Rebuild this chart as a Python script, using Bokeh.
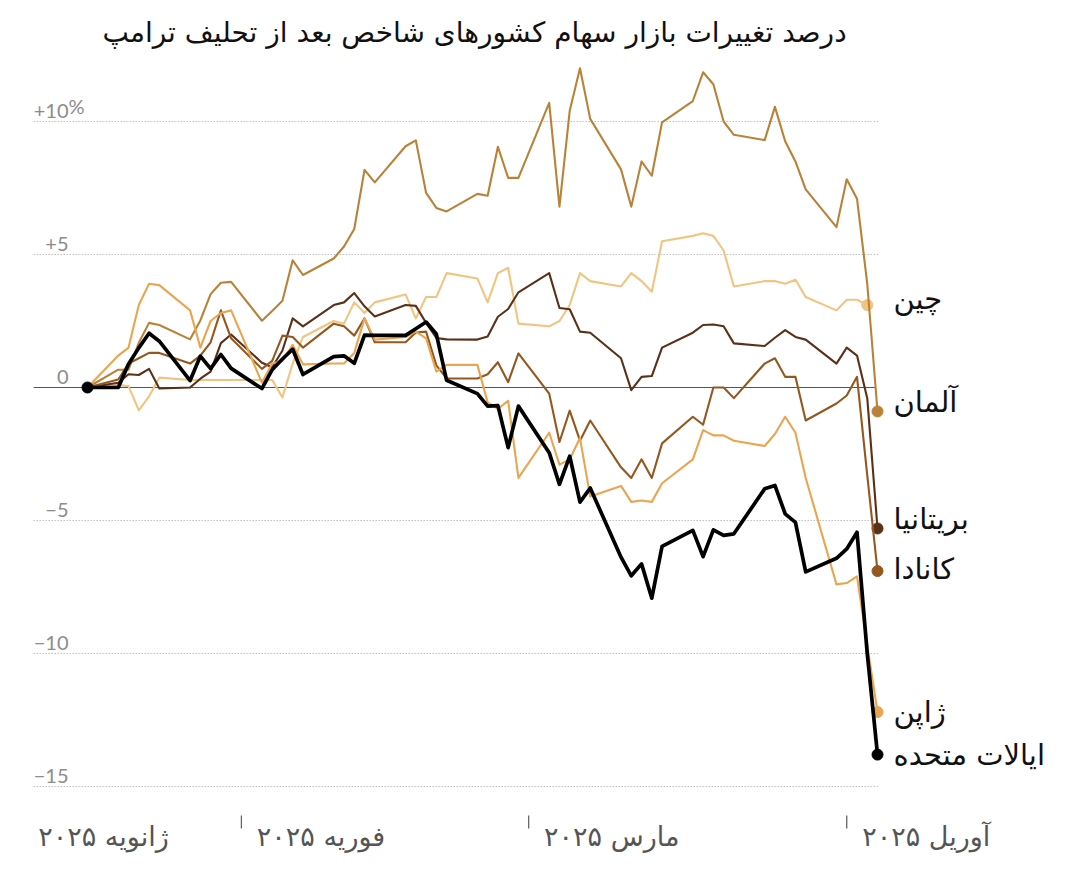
import math
import pandas as pd
from bokeh.plotting import figure
from bokeh.models import Range1d, ColumnDataSource, Label
from bokeh.core.properties import value
from bokeh.embed import file_html
from bokeh.resources import INLINE

# ---------------- data ----------------
dates = pd.bdate_range("2025-01-17", "2025-04-04")   # weekdays since the last close before the inauguration
BASE = pd.Timestamp("2025-01-17")

us = [0, 0, 0.88, 1.49, 2.04, 1.74, 0.26, 1.18, 0.71, 1.24, 0.72,
      -0.04, 0.67, 1.07, 1.44, 0.49, 1.16, 1.19, 0.91, 1.97, 1.96,
      1.96, 2.21, 2.46, 2.01, 0.27, -0.23, -0.70, -0.68, -2.26, -0.70,
      -2.45, -3.64, -2.58, -4.31, -3.78, -6.38, -7.08, -6.63, -7.92, -5.97,
      -5.37, -6.36, -5.35, -5.56, -5.50, -3.81, -3.68, -4.75, -5.07, -6.93,
      -6.42, -6.07, -5.44, -10.0, -13.8]
germany = [0, 0.67, 0.67, 1.68, 2.43, 2.35, 1.81, 2.52, 3.51, 3.94, 3.97,
           2.51, 2.88, 3.26, 4.78, 4.23, 4.85, 5.3, 5.96, 8.18, 7.71,
           9.07, 9.29, 7.32, 6.75, 6.62, 7.28, 7.21, 9.05, 7.88, 7.88,
           10.7, 6.8, 10.4, 12.0, 10.1, 8.2, 6.8, 8.5, 7.96, 9.97,
           10.77, 11.85, 11.4, 10.0, 9.5, 9.3, 10.55, 9.26, 8.5, 7.45,
           6.03, 7.83, 7.1, 3.9, -0.9]
britain = [0, 0.18, 0.5, 0.47, 0.7, -0.04, 0.0, 0.33, 0.6, 1.67, 1.99,
           0.93, 0.76, 1.39, 2.6, 2.3, 3.1, 3.2, 3.55, 3.05, 2.67,
           3.1, 3.07, 2.43, 1.86, 1.81, 1.8, 1.92, 2.66, 2.95, 3.58,
           4.3, 2.99, 2.94, 2.1, 2.06, 1.1, -0.1, 0.4, 0.43, 1.5,
           2.06, 2.35, 2.37, 2.3, 1.66, 1.56, 1.87, 2.16, 1.9, 1.8,
           0.9, 1.5, 1.2, -0.4, -5.3]
japan = [0, 1.2, 1.5, 3.1, 3.9, 3.85, 2.9, 1.5, 2.5, 2.8, 2.9,
         0.18, 0.9, 1.0, 1.6, 0.87, 0.9, 0.9, 1.3, 2.6, 1.8,
         1.9, 2.1, 1.85, 0.6, 0.85, 0.85, -0.56, -0.8, -0.5, -3.4,
         -1.7, -2.9, -2.7, -1.9, -4.1, -3.7, -4.3, -4.25, -4.3, -3.6,
         -2.7, -1.6, -1.8, -1.8, -2.0, -2.2, -1.75, -1.1, -1.7, -3.4,
         -7.4, -7.35, -7.1, -9.7, -12.2]
canada = [0, 0.3, 0.9, 1.1, 1.3, 1.3, 0.9, 1.2, 1.7, 2.9, 1.85,
          0.7, 1.0, 1.95, 1.9, 1.5, 2.4, 2.3, 1.95, 2.6, 1.7,
          1.7, 2.07, 2.1, 0.83, 0.34, 0.34, 0.5, 0.95, 0.2, 1.28,
          -0.23, -2.05, -0.87, -2.0, -1.24, -3.0, -3.4, -2.7, -3.4, -2.1,
          -1.1, -1.4, 0.0, 0.0, -0.4, 0.9, 1.1, 0.4, 0.4, -1.24,
          -0.6, -0.3, 0.4, -3.3, -6.9]
china = [0, 0.1, 0.05, -0.86, -0.33, 0.37, 0.28, 0.28, 0.28, 0.28, 0.28,
         0.28, 0.28, -0.37, 0.9, 1.9, 2.5, 2.4, 3.2, 2.8, 3.2,
         3.5, 2.6, 3.4, 3.4, 4.3, 4.1, 3.2, 4.3, 4.5, 2.4,
         2.3, 2.5, 3.1, 4.3, 4.0, 3.8, 4.3, 4.0, 3.6, 5.5,
         5.7, 5.8, 5.7, 5.15, 3.8, 4.0, 4.0, 3.9, 4.05, 3.4,
         2.9, 3.3, 3.3, 3.1, float("nan")]

names = ["چین", "آلمان", "بریتانیا", "کانادا", "ژاپن", "ایالات متحده"]
values = [china, germany, britain, canada, japan, us]

y_ticks = [10, 5, 0, -5, -10, -15]
y_tick_labels = ["+10", "+5", "0", "\u22125", "\u221210", "\u221215"]
y_tick_unit = "%"

month_tick_dates = ["2025-02-01", "2025-03-01", "2025-04-01"]
month_labels = ["ژانویه ۲۰۲۵", "فوریه ۲۰۲۵", "مارس ۲۰۲۵", "آوریل ۲۰۲۵"]

title_text = "درصد تغییرات بازار سهام کشورهای شاخص بعد از تحلیف ترامپ"

# ---------------- styles ----------------
colors = ["#f2c47f", "#b98238", "#5a3019", "#94581f", "#e9a550", "#000000"]
widths = [2.1, 2.1, 2.1, 2.1, 2.1, 3.7]
label_nudge = [-6, -9, -9, -2, 0, 0]   # px, negative = up
FA = "DejaVu Sans"

W, H = 1072, 863
PX_DAY = 10.26
PX_UNIT = 26.6
X_ORIGIN, Y_ORIGIN = 87, 387          # pixel position of the first point / zero line
x0 = -X_ORIGIN / PX_DAY
y1 = Y_ORIGIN / PX_UNIT

p = figure(width=W, height=H, output_backend="svg", toolbar_location=None,
           x_range=Range1d(x0, x0 + W / PX_DAY), y_range=Range1d(y1 - H / PX_UNIT, y1),
           min_border=0, min_border_left=0, min_border_right=0,
           min_border_top=0, min_border_bottom=0)
p.axis.visible = False
p.grid.visible = False
p.outline_line_color = None
p.background_fill_color = "white"
p.border_fill_color = "white"

days = [(d - BASE).days for d in dates]
last_day = days[-1]
left_edge = -5.25

# gridlines
grid_y = [t for t in y_ticks if t != 0]
p.segment(x0=[left_edge] * len(grid_y), x1=[last_day + 0.2] * len(grid_y), y0=grid_y, y1=grid_y,
          line_color="#a0a0a0", line_width=1.1, line_dash="1 2")
p.segment(x0=[left_edge], x1=[last_day - 0.2], y0=[0], y1=[0], line_color="#555555", line_width=1.2)

# y tick labels (numbers right-aligned, the % sign hangs to the right)
num_right = -1.85
p.text(x=[num_right] * len(y_ticks), y=y_ticks, text=y_tick_labels,
       text_font=value("Lato"), text_font_size="20px", text_color="#8c8c8c",
       text_align="right", text_baseline="bottom", y_offset=-4)
p.text(x=[num_right], y=[y_ticks[0]], text=[y_tick_unit],
       text_font=value("Lato"), text_font_size="20px", text_color="#8c8c8c",
       text_align="left", text_baseline="bottom", y_offset=-4)

# month ticks and labels
tick_days = [(pd.Timestamp(d) - BASE).days for d in month_tick_dates]
y_tick_top = -428 / PX_UNIT
y_tick_bot = -441 / PX_UNIT
y_lab = -449 / PX_UNIT
p.segment(x0=tick_days, x1=tick_days, y0=[y_tick_top] * 3, y1=[y_tick_bot] * 3,
          line_color="#666666", line_width=1.3)
lab_x = [-4.8] + [t + 1.5 for t in tick_days]
p.text(x=lab_x, y=[y_lab] * 4, text=month_labels, text_font=value(FA),
       text_font_size="27px", text_color="#555555", text_align="left", text_baseline="middle")

# series
for name, vals, col, lw, nudge in zip(names, values, colors, widths, label_nudge):
    src = ColumnDataSource(dict(x=days, y=vals))
    p.line("x", "y", source=src, line_color=col, line_width=lw, line_join="round")
    idx = max(i for i, v in enumerate(vals) if not (isinstance(v, float) and math.isnan(v)))
    p.scatter(x=[days[idx]], y=[vals[idx]], size=11, fill_color=col, line_color=col)
    p.text(x=[last_day], y=[vals[idx]], text=[name], text_font=value(FA), text_font_size="29px",
           text_color="#111111", text_align="left", text_baseline="middle",
           x_offset=16, y_offset=nudge)

# start dot
p.scatter(x=[days[0]], y=[us[0]], size=11, fill_color="black", line_color="black")

# title
p.add_layout(Label(x=474, y=H - 32, x_units="screen", y_units="screen", text=title_text,
                   text_font=FA, text_font_size="28px", text_color="#111111",
                   text_align="center", text_baseline="middle"))

open("out.html", "w").write(file_html(p, INLINE))
